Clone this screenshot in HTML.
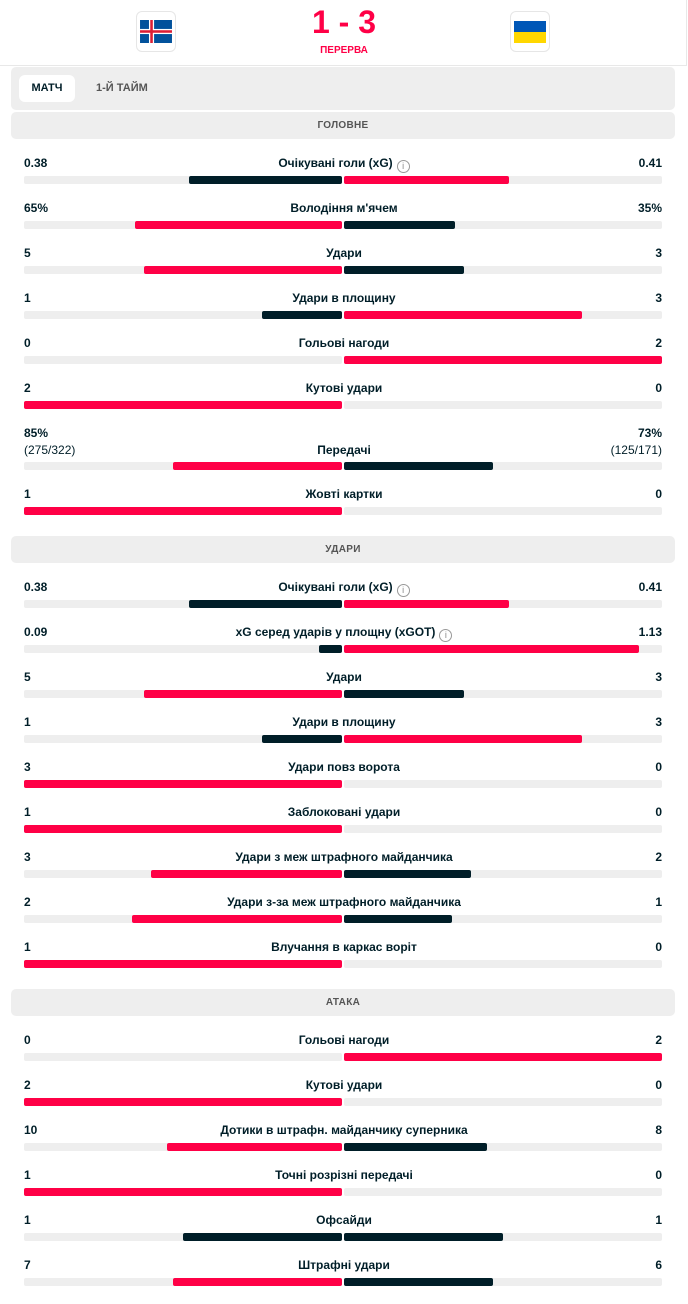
<!DOCTYPE html>
<html><head><meta charset="utf-8"><style>
*{margin:0;padding:0;box-sizing:border-box}
body{width:688px;height:1304px;background:#fff;position:relative;overflow:hidden;font-family:"Liberation Sans","DejaVu Sans",sans-serif;color:#001e28}
.a{position:absolute}
.hdr{position:absolute;left:11px;width:664px;height:27px;background:#eee;border-radius:5px;font-size:10px;font-weight:bold;color:#555;text-align:center;line-height:27px;letter-spacing:.3px}
.lv,.rv,.lb{position:absolute;font-size:12px;font-weight:bold;line-height:14px}
.lv{left:24px}.rv{right:26px;text-align:right}
.lb{left:0;width:688px;text-align:center}
.tr{position:absolute;height:8px;background:#eee;border-radius:2px}
.b{position:absolute;height:8px;border-radius:2px}
.r{background:#ff0046}.d{background:#001e28}
.i{display:inline-block;width:13px;height:13px;border:1px solid #999;border-radius:50%;font-size:9px;color:#888;line-height:11px;vertical-align:-2px;margin-left:4px;font-weight:normal}
</style></head><body>
<div class="a" style="left:136px;top:11px;width:40px;height:41px;border:1px solid #e6e6e6;border-radius:6px;background:#fff"></div>
<svg class="a" style="left:140px;top:20px" width="32" height="23" viewBox="0 0 25 18"><rect width="25" height="18" fill="#02529c"/><rect x="7" width="4" height="18" fill="#fff"/><rect y="7" width="25" height="4" fill="#fff"/><rect x="8" width="2" height="18" fill="#dc1e35"/><rect y="8" width="25" height="2" fill="#dc1e35"/></svg>
<div class="a" style="left:510px;top:11px;width:40px;height:41px;border:1px solid #e6e6e6;border-radius:6px;background:#fff"></div>
<div class="a" style="left:514px;top:21px;width:32px;height:11px;background:#0057b7"></div>
<div class="a" style="left:514px;top:32px;width:32px;height:11px;background:#ffd700"></div>
<div class="a" style="left:0;width:688px;top:4px;text-align:center;font-size:32px;font-weight:bold;color:#ff0046;line-height:36px">1 - 3</div>
<div class="a" style="left:0;width:688px;top:45px;text-align:center;font-size:10px;font-weight:bold;color:#ff0046">ПЕРЕРВА</div>
<div class="a" style="left:0;top:65px;width:686px;height:1px;background:#e8e8e8"></div>
<div class="a" style="left:686px;top:0;width:1px;height:66px;background:#e8e8e8"></div>
<div class="a" style="left:11px;top:67px;width:664px;height:43px;background:#eee;border-radius:5px"></div>
<div class="a" style="left:19px;top:75px;width:56px;height:27px;background:#fff;border-radius:6px;font-size:11px;font-weight:bold;text-align:center;line-height:27px">МАТЧ</div>
<div class="a" style="left:96px;top:75px;font-size:11px;font-weight:bold;color:#555;line-height:27px">1-Й ТАЙМ</div>

<div class="hdr" style="top:112px">ГОЛОВНЕ</div>
<div class="hdr" style="top:536px">УДАРИ</div>
<div class="hdr" style="top:989px">АТАКА</div>

<!-- rows: label top = center-7 -->
<div class="lv" style="top:156px">0.38</div><div class="lb" style="top:156px">Очікувані голи (xG)<span class="i">i</span></div><div class="rv" style="top:156px">0.41</div>
<div class="tr" style="left:24px;width:318px;top:176px"></div><div class="tr" style="left:344px;width:318px;top:176px"></div>
<div class="b d" style="left:189px;width:153px;top:176px"></div><div class="b r" style="left:344px;width:165px;top:176px"></div>

<div class="lv" style="top:201px">65%</div><div class="lb" style="top:201px">Володіння м'ячем</div><div class="rv" style="top:201px">35%</div>
<div class="tr" style="left:24px;width:318px;top:221px"></div><div class="tr" style="left:344px;width:318px;top:221px"></div>
<div class="b r" style="left:135px;width:207px;top:221px"></div><div class="b d" style="left:344px;width:111px;top:221px"></div>

<div class="lv" style="top:246px">5</div><div class="lb" style="top:246px">Удари</div><div class="rv" style="top:246px">3</div>
<div class="tr" style="left:24px;width:318px;top:266px"></div><div class="tr" style="left:344px;width:318px;top:266px"></div>
<div class="b r" style="left:144px;width:198px;top:266px"></div><div class="b d" style="left:344px;width:120px;top:266px"></div>

<div class="lv" style="top:291px">1</div><div class="lb" style="top:291px">Удари в площину</div><div class="rv" style="top:291px">3</div>
<div class="tr" style="left:24px;width:318px;top:311px"></div><div class="tr" style="left:344px;width:318px;top:311px"></div>
<div class="b d" style="left:262px;width:80px;top:311px"></div><div class="b r" style="left:344px;width:238px;top:311px"></div>

<div class="lv" style="top:336px">0</div><div class="lb" style="top:336px">Гольові нагоди</div><div class="rv" style="top:336px">2</div>
<div class="tr" style="left:24px;width:318px;top:356px"></div><div class="tr" style="left:344px;width:318px;top:356px"></div>
<div class="b r" style="left:344px;width:318px;top:356px"></div>

<div class="lv" style="top:381px">2</div><div class="lb" style="top:381px">Кутові удари</div><div class="rv" style="top:381px">0</div>
<div class="tr" style="left:24px;width:318px;top:401px"></div><div class="tr" style="left:344px;width:318px;top:401px"></div>
<div class="b r" style="left:24px;width:318px;top:401px"></div>

<div class="lv" style="top:426px">85%</div><div class="rv" style="top:426px">73%</div>
<div class="lv" style="top:443px;font-weight:normal">(275/322)</div><div class="lb" style="top:443px">Передачі</div><div class="rv" style="top:443px;font-weight:normal">(125/171)</div>
<div class="tr" style="left:24px;width:318px;top:462px"></div><div class="tr" style="left:344px;width:318px;top:462px"></div>
<div class="b r" style="left:173px;width:169px;top:462px"></div><div class="b d" style="left:344px;width:149px;top:462px"></div>

<div class="lv" style="top:487px">1</div><div class="lb" style="top:487px">Жовті картки</div><div class="rv" style="top:487px">0</div>
<div class="tr" style="left:24px;width:318px;top:507px"></div><div class="tr" style="left:344px;width:318px;top:507px"></div>
<div class="b r" style="left:24px;width:318px;top:507px"></div>

<div class="lv" style="top:580px">0.38</div><div class="lb" style="top:580px">Очікувані голи (xG)<span class="i">i</span></div><div class="rv" style="top:580px">0.41</div>
<div class="tr" style="left:24px;width:318px;top:600px"></div><div class="tr" style="left:344px;width:318px;top:600px"></div>
<div class="b d" style="left:189px;width:153px;top:600px"></div><div class="b r" style="left:344px;width:165px;top:600px"></div>

<div class="lv" style="top:625px">0.09</div><div class="lb" style="top:625px">xG серед ударів у площну (xGOT)<span class="i">i</span></div><div class="rv" style="top:625px">1.13</div>
<div class="tr" style="left:24px;width:318px;top:645px"></div><div class="tr" style="left:344px;width:318px;top:645px"></div>
<div class="b d" style="left:319px;width:23px;top:645px"></div><div class="b r" style="left:344px;width:295px;top:645px"></div>

<div class="lv" style="top:670px">5</div><div class="lb" style="top:670px">Удари</div><div class="rv" style="top:670px">3</div>
<div class="tr" style="left:24px;width:318px;top:690px"></div><div class="tr" style="left:344px;width:318px;top:690px"></div>
<div class="b r" style="left:144px;width:198px;top:690px"></div><div class="b d" style="left:344px;width:120px;top:690px"></div>

<div class="lv" style="top:715px">1</div><div class="lb" style="top:715px">Удари в площину</div><div class="rv" style="top:715px">3</div>
<div class="tr" style="left:24px;width:318px;top:735px"></div><div class="tr" style="left:344px;width:318px;top:735px"></div>
<div class="b d" style="left:262px;width:80px;top:735px"></div><div class="b r" style="left:344px;width:238px;top:735px"></div>

<div class="lv" style="top:760px">3</div><div class="lb" style="top:760px">Удари повз ворота</div><div class="rv" style="top:760px">0</div>
<div class="tr" style="left:24px;width:318px;top:780px"></div><div class="tr" style="left:344px;width:318px;top:780px"></div>
<div class="b r" style="left:24px;width:318px;top:780px"></div>

<div class="lv" style="top:805px">1</div><div class="lb" style="top:805px">Заблоковані удари</div><div class="rv" style="top:805px">0</div>
<div class="tr" style="left:24px;width:318px;top:825px"></div><div class="tr" style="left:344px;width:318px;top:825px"></div>
<div class="b r" style="left:24px;width:318px;top:825px"></div>

<div class="lv" style="top:850px">3</div><div class="lb" style="top:850px">Удари з меж штрафного майданчика</div><div class="rv" style="top:850px">2</div>
<div class="tr" style="left:24px;width:318px;top:870px"></div><div class="tr" style="left:344px;width:318px;top:870px"></div>
<div class="b r" style="left:151px;width:191px;top:870px"></div><div class="b d" style="left:344px;width:127px;top:870px"></div>

<div class="lv" style="top:895px">2</div><div class="lb" style="top:895px">Удари з-за меж штрафного майданчика</div><div class="rv" style="top:895px">1</div>
<div class="tr" style="left:24px;width:318px;top:915px"></div><div class="tr" style="left:344px;width:318px;top:915px"></div>
<div class="b r" style="left:132px;width:210px;top:915px"></div><div class="b d" style="left:344px;width:108px;top:915px"></div>

<div class="lv" style="top:940px">1</div><div class="lb" style="top:940px">Влучання в каркас воріт</div><div class="rv" style="top:940px">0</div>
<div class="tr" style="left:24px;width:318px;top:960px"></div><div class="tr" style="left:344px;width:318px;top:960px"></div>
<div class="b r" style="left:24px;width:318px;top:960px"></div>

<div class="lv" style="top:1033px">0</div><div class="lb" style="top:1033px">Гольові нагоди</div><div class="rv" style="top:1033px">2</div>
<div class="tr" style="left:24px;width:318px;top:1053px"></div><div class="tr" style="left:344px;width:318px;top:1053px"></div>
<div class="b r" style="left:344px;width:318px;top:1053px"></div>

<div class="lv" style="top:1078px">2</div><div class="lb" style="top:1078px">Кутові удари</div><div class="rv" style="top:1078px">0</div>
<div class="tr" style="left:24px;width:318px;top:1098px"></div><div class="tr" style="left:344px;width:318px;top:1098px"></div>
<div class="b r" style="left:24px;width:318px;top:1098px"></div>

<div class="lv" style="top:1123px">10</div><div class="lb" style="top:1123px">Дотики в штрафн. майданчику суперника</div><div class="rv" style="top:1123px">8</div>
<div class="tr" style="left:24px;width:318px;top:1143px"></div><div class="tr" style="left:344px;width:318px;top:1143px"></div>
<div class="b r" style="left:167px;width:175px;top:1143px"></div><div class="b d" style="left:344px;width:143px;top:1143px"></div>

<div class="lv" style="top:1168px">1</div><div class="lb" style="top:1168px">Точні розрізні передачі</div><div class="rv" style="top:1168px">0</div>
<div class="tr" style="left:24px;width:318px;top:1188px"></div><div class="tr" style="left:344px;width:318px;top:1188px"></div>
<div class="b r" style="left:24px;width:318px;top:1188px"></div>

<div class="lv" style="top:1213px">1</div><div class="lb" style="top:1213px">Офсайди</div><div class="rv" style="top:1213px">1</div>
<div class="tr" style="left:24px;width:318px;top:1233px"></div><div class="tr" style="left:344px;width:318px;top:1233px"></div>
<div class="b d" style="left:183px;width:159px;top:1233px"></div><div class="b d" style="left:344px;width:159px;top:1233px"></div>

<div class="lv" style="top:1258px">7</div><div class="lb" style="top:1258px">Штрафні удари</div><div class="rv" style="top:1258px">6</div>
<div class="tr" style="left:24px;width:318px;top:1278px"></div><div class="tr" style="left:344px;width:318px;top:1278px"></div>
<div class="b r" style="left:173px;width:169px;top:1278px"></div><div class="b d" style="left:344px;width:149px;top:1278px"></div>
</body></html>
